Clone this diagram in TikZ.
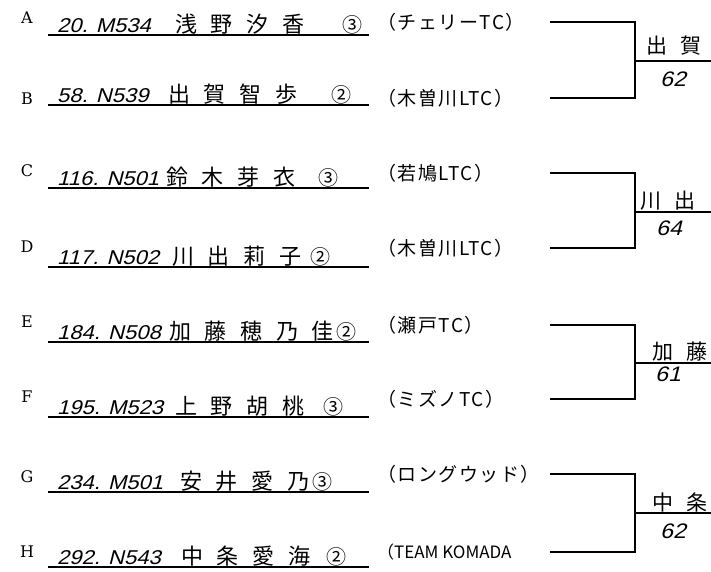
\documentclass[tikz,border=0pt]{standalone}
\usepackage{fontspec}
\usepackage{tikz}
\usetikzlibrary{positioning}

\newfontfamily\jp{Noto Sans CJK JP}
\newfontfamily\jpname[LetterSpace=62]{Noto Sans CJK JP}
\newfontfamily\jpclub[LetterSpace=8]{Noto Sans CJK JP}
\newfontfamily\hand[FakeSlant=0.25,FakeStretch=1.1]{Liberation Sans}
\newfontfamily\letterfont{DejaVu Serif}

\tikzset{
  rowletter/.style={inner sep=0pt, font=\letterfont\fontsize{16}{16}\selectfont},
  entrynum/.style={anchor=base west, inner sep=0pt, font=\hand\fontsize{20}{20}\selectfont},
  entryname/.style={anchor=base west, inner sep=0pt, font=\jpname\fontsize{22}{22}\selectfont},
  grade/.style={anchor=base west, inner sep=0pt, font=\jp\fontsize{20}{20}\selectfont},
  club/.style={anchor=west, inner sep=0pt, font=\jpclub\fontsize{19}{19}\selectfont},
  winner/.style={anchor=south, inner sep=0pt, font=\jpname\fontsize{21}{21}\selectfont},
  score/.style={anchor=north, inner sep=0pt, font=\hand\fontsize{21}{21}\selectfont},
  uline/.style={line width=1.1pt},
  bracket/.style={line width=1.3pt}
}

\begin{document}
\begin{tikzpicture}[x=1pt, y=-1pt]
  \useasboundingbox (0,0) rectangle (711,571);

  % entries
  \node[rowletter] (A) at (27,18) {A};
  \node[entrynum] (nA) at (57,32) {20. M534};
  \node[entryname] (mA) at (175,32) {浅野汐香};
  \node[grade] (gA) at (342,32) {③};
  \node[club] (cA) at (377,22) {（チェリーTC）};

  \node[rowletter] (B) at (27,99) {B};
  \node[entrynum] (nB) at (57,102) {58. N539};
  \node[entryname] (mB) at (168,102) {出賀智歩};
  \node[grade] (gB) at (331,102) {②};
  \node[club] (cB) at (377,98) {（木曽川LTC）};

  \node[rowletter] (C) at (27,171) {C};
  \node[entrynum] (nC) at (57,185) {116. N501};
  \node[entryname] (mC) at (166,185) {鈴木芽衣};
  \node[grade] (gC) at (318,185) {③};
  \node[club] (cC) at (377,173) {（若鳩LTC）};

  \node[rowletter] (D) at (27,247) {D};
  \node[entrynum] (nD) at (57,264) {117. N502};
  \node[entryname] (mD) at (172,264) {川出莉子};
  \node[grade] (gD) at (310,264) {②};
  \node[club] (cD) at (377,248) {（木曽川LTC）};

  \node[rowletter] (E) at (27,322) {E};
  \node[entrynum] (nE) at (57,339) {184. N508};
  \node[entryname] (mE) at (169,339) {加藤穂乃佳};
  \node[grade] (gE) at (336,339) {②};
  \node[club] (cE) at (377,325) {（瀬戸TC）};

  \node[rowletter] (F) at (27,397) {F};
  \node[entrynum] (nF) at (57,414) {195. M523};
  \node[entryname] (mF) at (175,414) {上野胡桃};
  \node[grade] (gF) at (323,414) {③};
  \node[club] (cF) at (377,399) {（ミズノTC）};

  \node[rowletter] (G) at (27,477) {G};
  \node[entrynum] (nG) at (57,489) {234. M501};
  \node[entryname] (mG) at (180,489) {安井愛乃};
  \node[grade] (gG) at (312,489) {③};
  \node[club] (cG) at (377,474) {（ロングウッド）};

  \node[rowletter] (H) at (27,552) {H};
  \node[entrynum] (nH) at (57,564) {292. N543};
  \node[entryname] (mH) at (181,564) {中条愛海};
  \node[grade] (gH) at (326,564) {②};
  \node[club, font=\jp\fontsize{17}{17}\selectfont] (cH) at (377,552) {（TEAM KOMADA};

  % underlines
  \draw[uline] (48,35) -- (369,35);
  \draw[uline] (48,105) -- (369,105);
  \draw[uline] (48,188) -- (369,188);
  \draw[uline] (48,267) -- (369,267);
  \draw[uline] (48,342) -- (369,342);
  \draw[uline] (48,417) -- (369,417);
  \draw[uline] (48,492) -- (369,492);
  \draw[uline] (48,567) -- (369,567);

  % brackets
  \coordinate (pA) at (550,22);  \coordinate (pB) at (550,98);
  \coordinate (pC) at (550,173); \coordinate (pD) at (550,248);
  \coordinate (pE) at (550,325); \coordinate (pF) at (550,399);
  \coordinate (pG) at (550,474); \coordinate (pH) at (550,552);
  \coordinate (jAB) at (635,61);  \coordinate (wAB) at (711,61);
  \coordinate (jCD) at (635,212); \coordinate (wCD) at (711,212);
  \coordinate (jEF) at (635,363); \coordinate (wEF) at (711,363);
  \coordinate (jGH) at (635,513); \coordinate (wGH) at (711,513);

  \draw[bracket] (pA) -| (jAB) |- (pB);
  \draw[bracket] (jAB) -- (wAB);
  \draw[bracket] (pC) -| (jCD) |- (pD);
  \draw[bracket] (jCD) -- (wCD);
  \draw[bracket] (pE) -| (jEF) |- (pF);
  \draw[bracket] (jEF) -- (wEF);
  \draw[bracket] (pG) -| (jGH) |- (pH);
  \draw[bracket] (jGH) -- (wGH);

  % results
  \node[winner] (rAB) at (674,55) {出賀};
  \node[score] (sAB) at (673,72) {62};
  \node[winner] (rCD) at (668,211) {川出};
  \node[score] (sCD) at (669,221) {64};
  \node[winner] (rEF) at (680,361) {加藤};
  \node[score] (sEF) at (668,367) {61};
  \node[winner] (rGH) at (680,512) {中条};
  \node[score] (sGH) at (673,524) {62};
\end{tikzpicture}
\end{document}
